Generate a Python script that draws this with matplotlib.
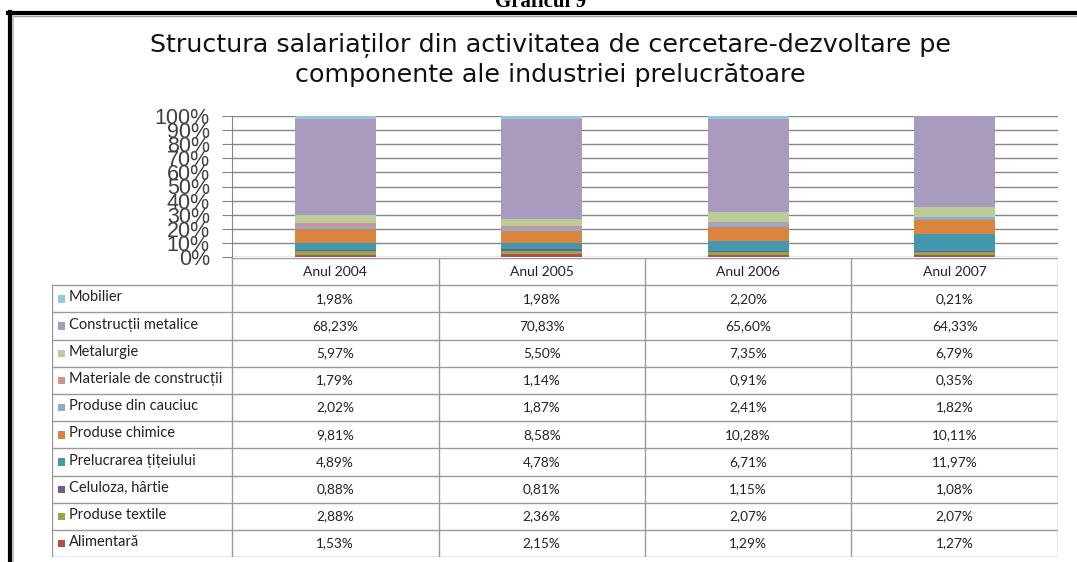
import numpy as np
import matplotlib
matplotlib.use("Agg")
import matplotlib.pyplot as plt
from matplotlib.patches import Rectangle
from matplotlib.lines import Line2D

years = ["Anul 2004", "Anul 2005", "Anul 2006", "Anul 2007"]

# stacking order, bottom to top
categories = ["Alimentară", "Produse textile", "Celuloza, hârtie", "Prelucrarea țițeiului",
              "Produse chimice", "Produse din cauciuc", "Materiale de construcții",
              "Metalurgie", "Construcții metalice", "Mobilier"]

alimentara = [1.53, 2.15, 1.29, 1.27]
textile = [2.88, 2.36, 2.07, 2.07]
celuloza = [0.88, 0.81, 1.15, 1.08]
titei = [4.89, 4.78, 6.71, 11.97]
chimice = [9.81, 8.58, 10.28, 10.11]
cauciuc = [2.02, 1.87, 2.41, 1.82]
materiale = [1.79, 1.14, 0.91, 0.35]
metalurgie = [5.97, 5.50, 7.35, 6.79]
constructii = [68.23, 70.83, 65.60, 64.33]
mobilier = [1.98, 1.98, 2.20, 0.21]

series = [alimentara, textile, celuloza, titei, chimice, cauciuc,
          materiale, metalurgie, constructii, mobilier]

colors = ["#B94A48", "#8AAB4E", "#735994", "#4198AF", "#DB843D",
          "#93A9CF", "#D19392", "#B9CD96", "#A99BBD", "#92C8DA"]

yticks = np.arange(0, 101, 10)
ytick_labels = [f"{t}%" for t in yticks]

W, H = 1077, 562
fig = plt.figure(figsize=(W / 100, H / 100), dpi=100)


def fx(px):
    return px / W


def fy(py):
    return 1 - py / H


# page frame
fig.add_artist(Line2D([fx(8), 1], [fy(13), fy(13)], color="black", lw=3))
fig.add_artist(Line2D([fx(10), fx(10)], [fy(12), 0], color="black", lw=3))
fig.add_artist(Line2D([fx(13), 1], [fy(15.5), fy(15.5)], color="#A0A0A0", lw=1))
fig.add_artist(Line2D([fx(13), fx(13)], [fy(15.5), 0], color="#C0C0C0", lw=1.5))
fig.text(fx(541), fy(7), "Graficul 9", ha="center", va="baseline",
         fontsize=15, fontweight="bold", family="Liberation Serif")

fig.text(fx(550), fy(46), "Structura salariaților din activitatea de cercetare-dezvoltare pe",
         ha="center", va="center", fontsize=18.3, family="DejaVu Sans", color="#111111")
fig.text(fx(550), fy(75), "componente ale industriei prelucrătoare",
         ha="center", va="center", fontsize=18.3, family="DejaVu Sans", color="#111111")

# bars
x0, x1 = 232, 1058
ax = fig.add_axes([fx(x0), fy(257), fx(x1) - fx(x0), fy(116) - fy(257)])
xpos = np.arange(len(years))
bottom = np.zeros(len(years))
for vals, col in zip(series, colors):
    ax.bar(xpos, vals, 0.39, bottom=bottom, color=col, edgecolor="none", zorder=3)
    bottom += np.array(vals)
ax.set_xlim(-0.5, len(years) - 0.5)
ax.set_ylim(0, 100)
ax.set_yticks(yticks)
ax.set_yticklabels(ytick_labels, fontsize=15.5, family="Liberation Sans", color="#404040")
ax.tick_params(axis="y", length=7, color="#868686", pad=9)
ax.tick_params(axis="x", bottom=False, labelbottom=False)
ax.grid(axis="y", color="#868686", lw=1, zorder=0)
for s in ["top", "right", "bottom"]:
    ax.spines[s].set_visible(False)
ax.spines["left"].set_color("#868686")

# data table
colw = (x1 - x0) / len(years)
leg_left = 52
tab_top, row_h = 258, 27.2
nrows = len(categories)
tab = fig.add_axes([fx(leg_left), fy(tab_top + row_h * (nrows + 1)),
                    fx(x1) - fx(leg_left), fy(tab_top) - fy(tab_top + row_h * (nrows + 1))])
leg_units = (x0 - leg_left) / colw
tab.set_xlim(-0.5 - leg_units, len(years) - 0.5)
tab.set_ylim(nrows + 1, 0)
tab.axis("off")
lc = "#9A9A9A"
# horizontal lines
tab.plot([-0.5, len(years) - 0.5], [0, 0], color=lc, lw=1)
for r in range(1, nrows + 2):
    tab.plot([-0.5 - leg_units, len(years) - 0.5], [r, r], color=lc, lw=1)
# vertical lines
tab.plot([-0.5 - leg_units] * 2, [1, nrows + 1], color=lc, lw=1)
for c in range(len(years) + 1):
    tab.plot([c - 0.5] * 2, [0, nrows + 1], color=lc, lw=1)

for c, yr in enumerate(years):
    tab.text(c, 0.5, yr, ha="center", va="center", fontsize=10, family="Lato", color="#222222")

rows = list(zip(categories, series, colors))[::-1]
sq = 7 / colw
for r, (name, vals, col) in enumerate(rows, start=1):
    yc = r + 0.5
    tab.add_patch(Rectangle((-0.5 - leg_units + 6 / colw, yc - 0.13), sq, 0.27,
                            facecolor=col, edgecolor="none"))
    tab.text(-0.5 - leg_units + 17 / colw, yc - 0.05, name, ha="left", va="center",
             fontsize=10.5, family="Lato", color="#222222")
    for c, v in enumerate(vals):
        tab.text(c, yc, f"{v:.2f}%".replace(".", ","), ha="center", va="center",
                 fontsize=9.8, family="Lato", color="#222222")

fig.savefig("out.png", dpi=100)
